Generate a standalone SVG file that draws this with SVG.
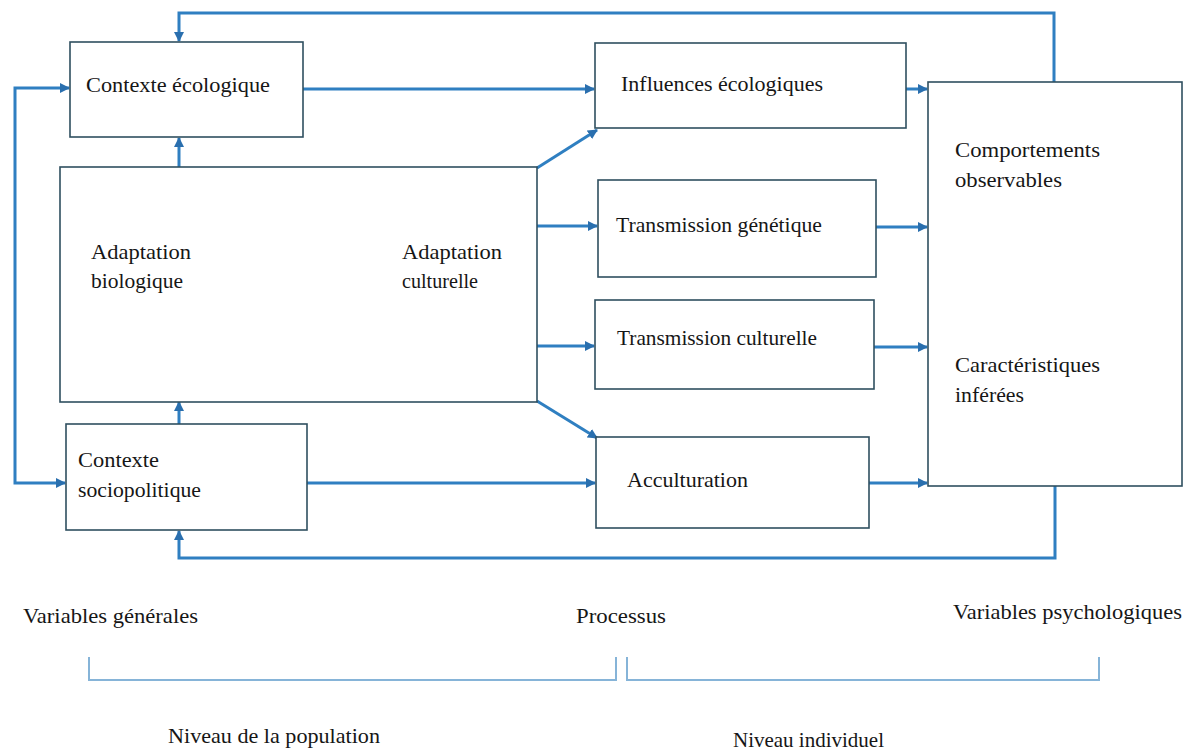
<svg xmlns="http://www.w3.org/2000/svg" width="1184" height="753" viewBox="0 0 1184 753">
<defs>
<style>
.box{fill:#ffffff;stroke:#2f4f5f;stroke-width:1.6}
.t{font-family:'Liberation Serif','Times New Roman',serif;font-size:21px;fill:#161616}
.c{fill:none;stroke:#2f7fc1;stroke-width:3}
.br{fill:none;stroke:#86b4d8;stroke-width:2}
</style>
<marker id="ah" viewBox="0 0 10 10" refX="9" refY="5" markerWidth="10" markerHeight="10" markerUnits="userSpaceOnUse" orient="auto-start-reverse">
<path d="M0,0 L10,5 L0,10 z" fill="#2a6fae"/>
</marker>
</defs>
<rect width="1184" height="753" fill="#ffffff"/>

<g id="connectors">
<path class="c" d="M1054,82 V13 H179 V41" marker-end="url(#ah)"/>
<path class="c" d="M69,88 H15 V483 H65" marker-start="url(#ah)" marker-end="url(#ah)"/>
<path class="c" d="M179,167 V138" marker-end="url(#ah)"/>
<path class="c" d="M179,424 V402" marker-end="url(#ah)"/>
<path class="c" d="M1055,486 V558 H179 V531" marker-end="url(#ah)"/>
<path class="c" d="M303,89 H594" marker-end="url(#ah)"/>
<path class="c" d="M307,483 H595" marker-end="url(#ah)"/>
<path class="c" d="M537,168 L597,130" marker-end="url(#ah)"/>
<path class="c" d="M537,226 H597" marker-end="url(#ah)"/>
<path class="c" d="M537,346 H594" marker-end="url(#ah)"/>
<path class="c" d="M537,401 L597,438" marker-end="url(#ah)"/>
<path class="c" d="M906,89 H927" marker-end="url(#ah)"/>
<path class="c" d="M876,227 H927" marker-end="url(#ah)"/>
<path class="c" d="M874,347 H927" marker-end="url(#ah)"/>
<path class="c" d="M869,483 H927" marker-end="url(#ah)"/>
</g>

<g id="contexte-ecologique">
<rect class="box" x="70" y="42" width="233" height="95"/>
<text class="t" x="86" y="92" textLength="184" lengthAdjust="spacingAndGlyphs">Contexte écologique</text>
</g>

<g id="adaptation">
<rect class="box" x="60" y="167" width="477" height="235"/>
<text class="t" x="91" y="259" textLength="100" lengthAdjust="spacingAndGlyphs">Adaptation</text>
<text class="t" x="91" y="288" textLength="92" lengthAdjust="spacingAndGlyphs">biologique</text>
<text class="t" x="402" y="259" textLength="100" lengthAdjust="spacingAndGlyphs">Adaptation</text>
<text class="t" x="402" y="288" textLength="76" lengthAdjust="spacingAndGlyphs">culturelle</text>
</g>

<g id="contexte-sociopolitique">
<rect class="box" x="66" y="424" width="241" height="106"/>
<text class="t" x="78" y="467" textLength="81" lengthAdjust="spacingAndGlyphs">Contexte</text>
<text class="t" x="78" y="497" textLength="123" lengthAdjust="spacingAndGlyphs">sociopolitique</text>
</g>

<g id="influences-ecologiques">
<rect class="box" x="595" y="43" width="311" height="85"/>
<text class="t" x="621" y="91" textLength="202" lengthAdjust="spacingAndGlyphs">Influences écologiques</text>
</g>

<g id="transmission-genetique">
<rect class="box" x="598" y="180" width="278" height="97"/>
<text class="t" x="616" y="232" textLength="206" lengthAdjust="spacingAndGlyphs">Transmission génétique</text>
</g>

<g id="transmission-culturelle">
<rect class="box" x="595" y="300" width="279" height="89"/>
<text class="t" x="617" y="345" textLength="200" lengthAdjust="spacingAndGlyphs">Transmission culturelle</text>
</g>

<g id="acculturation">
<rect class="box" x="596" y="437" width="273" height="91"/>
<text class="t" x="627" y="487" textLength="121" lengthAdjust="spacingAndGlyphs">Acculturation</text>
</g>

<g id="variables-psychologiques-box">
<rect class="box" x="928" y="82" width="254" height="404"/>
<text class="t" x="955" y="157" textLength="145" lengthAdjust="spacingAndGlyphs">Comportements</text>
<text class="t" x="955" y="187" textLength="107" lengthAdjust="spacingAndGlyphs">observables</text>
<text class="t" x="955" y="372" textLength="145" lengthAdjust="spacingAndGlyphs">Caractéristiques</text>
<text class="t" x="955" y="402" textLength="69" lengthAdjust="spacingAndGlyphs">inférées</text>
</g>

<g id="legend">
<text class="t" x="23" y="623" textLength="175" lengthAdjust="spacingAndGlyphs">Variables générales</text>
<text class="t" x="576" y="623" textLength="90" lengthAdjust="spacingAndGlyphs">Processus</text>
<text class="t" x="953" y="619" textLength="229" lengthAdjust="spacingAndGlyphs">Variables psychologiques</text>
<path class="br" d="M89,657 V680 H616 V657"/>
<path class="br" d="M627,657 V680 H1099 V657"/>
<text class="t" x="168" y="743" textLength="212" lengthAdjust="spacingAndGlyphs">Niveau de la population</text>
<text class="t" x="733" y="747" textLength="151" lengthAdjust="spacingAndGlyphs">Niveau individuel</text>
</g>
</svg>
